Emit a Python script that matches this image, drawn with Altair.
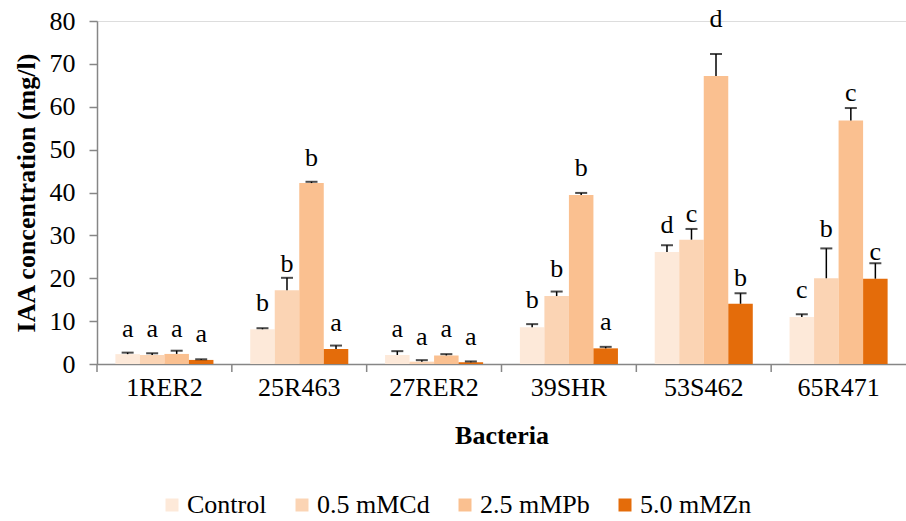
import altair as alt
import pandas as pd

bacteria = ["1RER2", "25R463", "27RER2", "39SHR", "53S462", "65R471"]
treatments = ["Control", "0.5 mMCd", "2.5 mMPb", "5.0 mMZn"]
colors = ["#fde9d9", "#fbd4b4", "#fac090", "#e46c0a"]

# mean IAA (mg/l) per bacteria, for each treatment
control = [2.3, 8.1, 2.1, 8.55, 26.1, 10.95]
cd05 = [2.1, 17.2, 0.55, 15.85, 29.0, 20.0]
pb25 = [2.35, 42.2, 2.0, 39.4, 67.2, 56.8]
zn50 = [0.95, 3.5, 0.4, 3.65, 14.05, 19.9]

# error bar (upper) magnitudes
control_err = [0.35, 0.25, 0.9, 0.75, 1.6, 0.65]
cd05_err = [0.4, 2.9, 0.35, 1.05, 2.5, 6.96]
pb25_err = [0.75, 0.3, 0.3, 0.5, 5.1, 2.9]
zn50_err = [0.15, 0.8, 0.2, 0.35, 2.45, 3.6]

# significance letters
control_let = ["a", "b", "a", "b", "d", "c"]
cd05_let = ["a", "b", "a", "b", "c", "b"]
pb25_let = ["a", "b", "a", "b", "d", "c"]
zn50_let = ["a", "a", "a", "a", "b", "c"]

# letter baseline heights (mg/l)
control_lab = [6.25, 12.4, 6.2, 13.0, 30.5, 15.3]
cd05_lab = [6.25, 21.5, 4.4, 20.4, 33.2, 29.7]
pb25_lab = [6.25, 46.25, 6.2, 43.9, 78.7, 61.3]
zn50_lab = [5.2, 7.7, 4.4, 7.9, 18.2, 24.3]

vals = [control, cd05, pb25, zn50]
errs = [control_err, cd05_err, pb25_err, zn50_err]
lets = [control_let, cd05_let, pb25_let, zn50_let]
labs = [control_lab, cd05_lab, pb25_lab, zn50_lab]

rows = []
for ti, t in enumerate(treatments):
    for bi, b in enumerate(bacteria):
        v = vals[ti][bi]
        rows.append({
            "Bacteria": b,
            "Treatment": t,
            "Value": v,
            "Top": v + errs[ti][bi],
            "Letter": lets[ti][bi],
            "LabelY": labs[ti][bi],
        })
df = pd.DataFrame(rows)

FONT = "Liberation Serif"
GRAY = "#868686"
YTITLE = "IAA concentration (mg/l)"
W, H = 809, 343

xenc = alt.X(
    "Bacteria:N", sort=bacteria,
    scale=alt.Scale(paddingInner=0, paddingOuter=0),
    axis=alt.Axis(
        title="Bacteria", titleFont=FONT, titleFontSize=26, titleFontWeight="bold",
        titleColor="black", titleY=79, titleBaseline="alphabetic",
        labelFont=FONT, labelFontSize=26, labelColor="black", labelAngle=0,
        labelPadding=10, ticks=False, domainColor=GRAY, domainWidth=1.5,
    ),
)
xoff = alt.XOffset(
    "Treatment:N", sort=treatments,
    scale=alt.Scale(paddingOuter=0.75, paddingInner=0),
)
yscale = alt.Scale(domain=[0, 80], nice=False)
yaxis = alt.Axis(
    values=list(range(0, 81, 10)), grid=False,
    tickSize=8, tickColor=GRAY, tickWidth=1.5, domainColor=GRAY, domainWidth=1.5,
    labelFont=FONT, labelFontSize=26, labelColor="black", labelPadding=14,
    title=YTITLE, titleFont=FONT, titleFontSize=26, titleFontWeight="bold",
    titleColor="black", titleAngle=270, titleX=-63, titleY=H / 2,
    titleAlign="center", titleBaseline="alphabetic",
)

base = alt.Chart(df).encode(x=xenc, xOffset=xoff)

bars = base.mark_bar().encode(
    y=alt.Y("Value:Q", scale=yscale, axis=yaxis, title=YTITLE),
    color=alt.Color(
        "Treatment:N", sort=treatments,
        scale=alt.Scale(domain=treatments, range=colors),
        legend=alt.Legend(
            title=None, orient="none", legendX=62, legendY=471, direction="horizontal",
            symbolType="square", symbolSize=169, symbolStrokeWidth=0, symbolOpacity=1,
            labelFont=FONT, labelFontSize=26, labelColor="black", labelOffset=2,
            columnPadding=22, padding=0,
        ),
    ),
)

stems = base.mark_rule(color="black", strokeWidth=1.5).encode(
    y=alt.Y("Value:Q", scale=yscale, title=YTITLE), y2="Top:Q"
)
caps = base.mark_tick(color="black", size=12, thickness=2).encode(
    y=alt.Y("Top:Q", scale=yscale, title=YTITLE)
)
letters = base.mark_text(
    font=FONT, fontSize=26, baseline="alphabetic", align="center", color="black"
).encode(
    y=alt.Y("LabelY:Q", scale=yscale, title=YTITLE), text="Letter:N"
)

tick_df = pd.DataFrame({"Bacteria": bacteria})
xticks = alt.Chart(tick_df).mark_rule(color=GRAY, strokeWidth=1.5).encode(
    x=alt.X("Bacteria:N", sort=bacteria, bandPosition=0),
    y=alt.value(H), y2=alt.value(H + 8),
)

chart = (
    alt.layer(bars, stems, caps, letters, xticks)
    .properties(
        width=W, height=H,
        autosize=alt.AutoSizeParams(type="none"),
        padding={"left": 97, "top": 21, "right": 0, "bottom": 157},
        background="white",
    )
    .configure_view(strokeWidth=0)
    .configure(font=FONT)
    .configure_axis(labelFont=FONT, titleFont=FONT)
    .configure_legend(labelFont=FONT, titleFont=FONT)
    .configure_text(font=FONT)
)

chart.save("out.html", embed_options={"renderer": "svg", "actions": False})
